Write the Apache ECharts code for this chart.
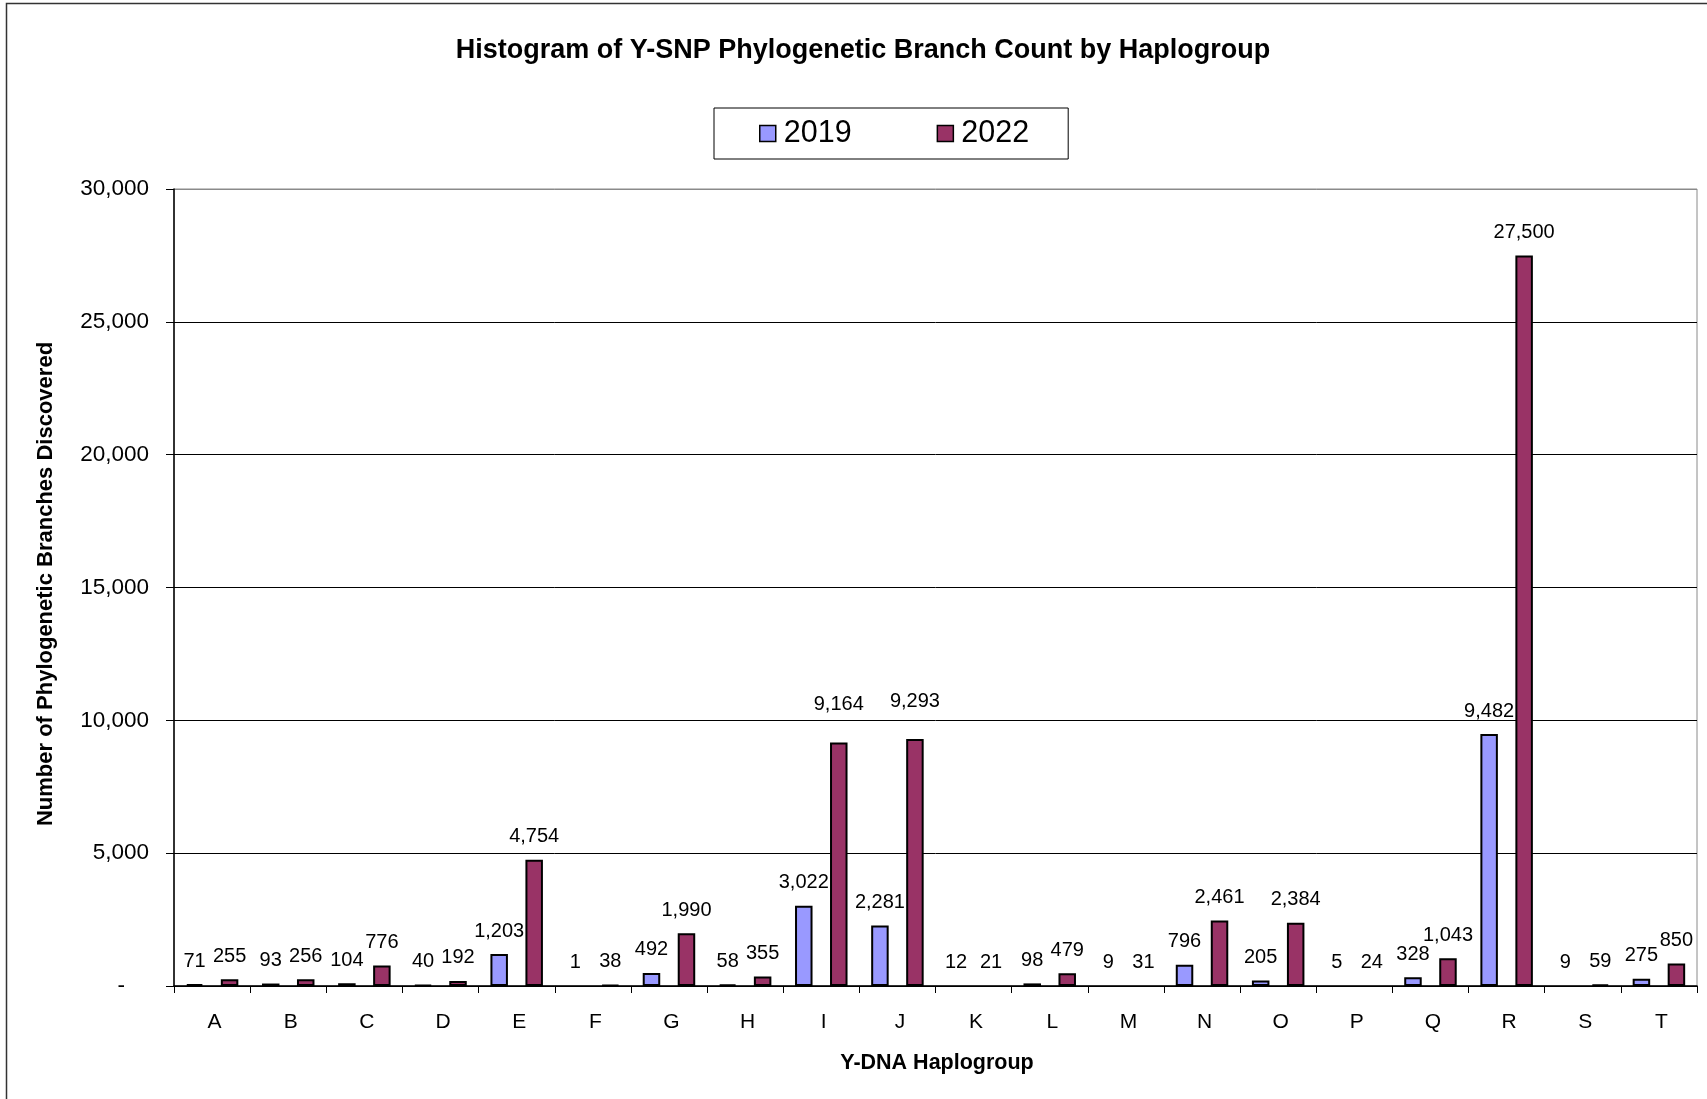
<!DOCTYPE html>
<html>
<head>
<meta charset="utf-8">
<title>Y-SNP Phylogenetic Branch Count by Haplogroup</title>
<script src="https://cdn.jsdelivr.net/npm/echarts@6/dist/echarts.min.js"></script>
<style>
  html, body { margin: 0; padding: 0; background: #fff; }
  #chart { width: 1707px; height: 1099px; }
</style>
</head>
<body>
<div id="chart"></div>
<script>
// Haplogroup categories along the x axis
const haplogroups = ['A','B','C','D','E','F','G','H','I','J','K','L','M','N','O','P','Q','R','S','T'];

// Branch counts per haplogroup
const counts2019 = [71, 93, 104, 40, 1203, 1, 492, 58, 3022, 2281, 12, 98, 9, 796, 205, 5, 328, 9482, 9, 275];
const counts2022 = [255, 256, 776, 192, 4754, 38, 1990, 355, 9164, 9293, 21, 479, 31, 2461, 2384, 24, 1043, 27500, 59, 850];

// Value axis range
const yMin = 0;
const yMax = 30000;
const yStep = 5000;

const FONT = 'Arial, "Liberation Sans", sans-serif';
const fmt = v => v.toLocaleString('en-US');

const chart = echarts.init(document.getElementById('chart'), null, { renderer: 'canvas' });

const gridLeft = 174, gridTop = 189, gridRight = 10, gridBottom = 113;
const plotHeight = 1099 - gridTop - gridBottom;
const pxPerUnit = plotHeight / (yMax - yMin);

// Bars shorter than one pixel are left undrawn (only their value label shows);
// labels that would sit across a gridline are lifted clear of it.
function buildItems(values) {
  return values.map(v => {
    const item = { value: v };
    if (v * pxPerUnit < 1) {
      item.itemStyle = { color: 'rgba(0,0,0,0)', borderWidth: 0 };
    }
    const labelBottom = v + 13 / pxPerUnit;
    const labelTop = labelBottom + 20 / pxPerUnit;
    const crossesGrid = Math.floor(labelTop / yStep) > Math.floor(labelBottom / yStep) &&
      v > yStep && Math.floor(labelTop / yStep) * yStep - labelBottom > 4 / pxPerUnit;
    if (crossesGrid) {
      item.label = { offset: [0, -15] };
    }
    return item;
  });
}

chart.setOption({
  backgroundColor: '#ffffff',
  animation: false,
  title: {
    text: 'Histogram of Y-SNP Phylogenetic Branch Count by Haplogroup',
    left: 858,
    textAlign: 'center',
    top: 32,
    textStyle: { fontFamily: FONT, fontSize: 27, fontWeight: 'bold', color: '#000' }
  },
  legend: {
    data: ['2019', '2022'],
    left: 714,
    top: 108,
    orient: 'horizontal',
    padding: [10, 39, 10, 45],
    itemGap: 85,
    itemWidth: 16,
    itemHeight: 16,
    icon: 'rect',
    borderColor: '#000',
    borderWidth: 1,
    textStyle: { fontFamily: FONT, fontSize: 30.5, color: '#000', padding: [0, 0, 0, 3] },
    itemStyle: { borderColor: '#000', borderWidth: 1.5 }
  },
  grid: {
    left: gridLeft, top: gridTop, right: gridRight, bottom: gridBottom,
    show: true, borderColor: '#8a8a8a', borderWidth: 1, containLabel: false
  },
  xAxis: {
    type: 'category',
    data: haplogroups,
    boundaryGap: true,
    axisLine: { show: true, lineStyle: { color: '#000', width: 1.5 } },
    axisTick: { show: true, interval: 0, length: 7, lineStyle: { color: '#000', width: 1 } },
    axisLabel: { interval: 0, margin: 26, fontFamily: FONT, fontSize: 21, color: '#000', padding: [0, 0, 0, 5] }
  },
  yAxis: {
    type: 'value',
    min: yMin,
    max: yMax,
    interval: yStep,
    axisLine: { show: true, lineStyle: { color: '#000', width: 1.5 } },
    axisTick: { show: true, length: 8, lineStyle: { color: '#000', width: 1 } },
    splitLine: {
      show: true,
      lineStyle: { color: ['#000', '#000', '#000', '#000', '#000', '#000', '#8a8a8a'], width: 1 }
    },
    axisLabel: {
      margin: 25,
      fontFamily: FONT,
      fontSize: 22.5,
      color: '#000',
      formatter: v => v === 0 ? '{dash|-}' : fmt(v),
      rich: { dash: { fontFamily: FONT, fontSize: 22.5, color: '#000', padding: [0, 24, 0, 0] } }
    }
  },
  graphic: [
    {
      type: 'rect',
      silent: true,
      shape: { x: 6.5, y: 3.5, width: 1800, height: 1200 },
      style: { fill: 'none', stroke: '#333', lineWidth: 1.5 }
    },
    {
      type: 'text',
      x: 46,
      y: 584,
      rotation: Math.PI / 2,
      style: {
        text: 'Number of Phylogenetic Branches Discovered',
        fontFamily: FONT, fontSize: 22, fontWeight: 'bold', fill: '#000',
        align: 'center', verticalAlign: 'middle'
      }
    },
    {
      type: 'text',
      x: 937,
      y: 1063,
      style: {
        text: 'Y-DNA Haplogroup',
        fontFamily: FONT, fontSize: 21.5, fontWeight: 'bold', fill: '#000',
        align: 'center', verticalAlign: 'middle'
      }
    }
  ],
  series: [
    {
      name: '2019',
      type: 'bar',
      data: buildItems(counts2019),
      barWidth: 17.5,
      barGap: '100%',
      itemStyle: { color: '#9999FF', borderColor: '#000', borderWidth: 2 },
      label: {
        show: true, position: 'top', distance: 13,
        fontFamily: FONT, fontSize: 20, color: '#000',
        formatter: p => fmt(p.value)
      }
    },
    {
      name: '2022',
      type: 'bar',
      data: buildItems(counts2022),
      barWidth: 17.5,
      barGap: '100%',
      itemStyle: { color: '#993366', borderColor: '#000', borderWidth: 2 },
      label: {
        show: true, position: 'top', distance: 13,
        fontFamily: FONT, fontSize: 20, color: '#000',
        formatter: p => fmt(p.value)
      }
    }
  ]
});
</script>
</body>
</html>
